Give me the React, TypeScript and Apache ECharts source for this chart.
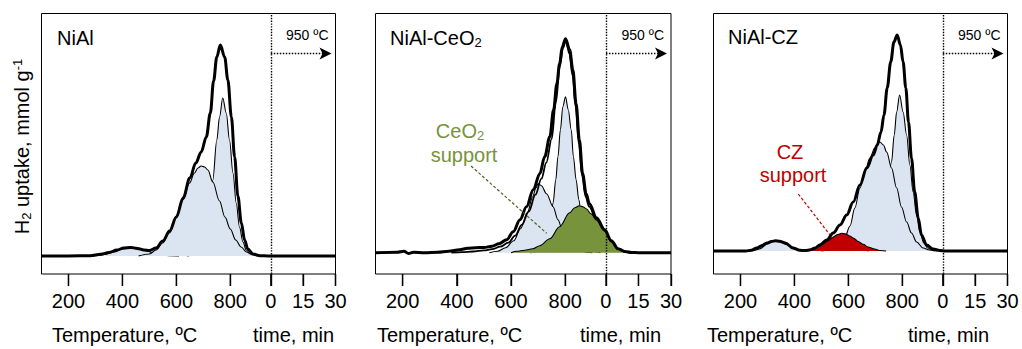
import React, { useEffect, useRef } from "react";
import * as echarts from "echarts";

// x axis: temperature (°C) up to 950, then isothermal time at 950 °C: x = 950 + 8 * minutes
const tickValues = [200, 400, 600, 800, 950, 1070, 1190];
const tickLabels = ["200", "400", "600", "800", "0", "15", "30"];

// ---- NiAl ----
const nialMeasured: [number, number][] = [
  [100, 0], [200, 0], [280, 0.3], [320, 1.8], [350, 3.5], [380, 6], [405, 8], [430, 8.6], [455, 7.6],
  [480, 6], [500, 5.5], [525, 8], [550, 15], [575, 25], [600, 39], [625, 58], [650, 78], [672, 93],
  [692, 104], [711, 119], [726, 143], [738, 175], [750, 199], [763, 211], [779, 199], [791, 176],
  [804, 139], [816, 99], [828, 60], [841, 33], [853, 16], [865, 7], [884, 2], [910, 0.3], [940, 0], [1190, 0],
];
const nialPeakLow: [number, number][] = [
  [280, 0], [310, 0.6], [340, 1.8], [370, 4], [400, 7], [430, 9], [460, 7.8], [490, 5], [520, 2.3],
  [550, 0.8], [580, 0.2], [610, 0],
];
const nialPeakMid: [number, number][] = [
  [460, 0], [500, 2], [525, 6], [549, 13], [574, 23], [599, 38], [624, 56], [649, 73], [667, 83],
  [680, 88], [692, 90], [705, 89], [717, 86], [735, 74], [760, 55], [780, 39], [800, 27], [820, 16],
  [840, 9], [860, 4], [880, 1.5], [900, 0.5], [930, 0],
];
const nialPeakHigh: [number, number][] = [
  [640, 0], [666, 1], [685, 6], [697, 14], [710, 29], [722, 48], [735, 76], [750, 116], [760, 139],
  [772, 158], [785, 143], [797, 116], [810, 83], [822, 53], [834, 29], [847, 14], [859, 6], [878, 1], [900, 0],
];

// ---- NiAl-CeO2 ----
const ceMeasured: [number, number][] = [
  [100, 0], [180, 0.5], [205, 1.5], [222, -0.8], [240, 0.5], [280, 0], [330, 0.5], [370, 1.5], [410, 3],
  [440, 4.5], [470, 5], [500, 5.2], [530, 6.5], [555, 9], [584, 13], [608, 21], [633, 33], [657, 46],
  [682, 63], [706, 79], [724, 96], [743, 116], [757, 143], [769, 169], [779, 189], [789, 206], [801, 214],
  [816, 203], [828, 183], [840, 149], [852, 113], [864, 79], [877, 59], [889, 49], [915, 35], [945, 23],
  [970, 12], [995, 4], [1020, 1.2], [1045, 0.2], [1070, 0], [1190, 0],
];
const ceFitSum: [number, number][] = [
  [380, 0], [420, 0.5], [460, 1.2], [500, 2.3], [530, 3.5], [560, 6], [590, 10], [615, 17], [640, 28],
  [665, 41], [690, 58], [712, 74], [730, 90], [750, 114], [765, 150], [780, 186], [792, 205], [802, 212],
  [815, 199], [827, 177], [838, 146], [850, 109], [862, 77], [875, 56], [888, 46], [915, 33], [945, 22],
  [970, 11], [995, 3.5], [1020, 0.8], [1040, 0],
];
const ceSupport: [number, number][] = [
  [600, 0], [621, 1.4], [650, 2.5], [680, 4], [706, 7], [743, 14], [779, 26], [816, 40], [835, 45],
  [852, 47], [865, 46], [877, 44], [895, 39], [915, 33], [945, 22], [970, 11.5], [995, 3.8], [1020, 1.1],
  [1045, 0.3], [1070, 0],
];
const cePeakMid: [number, number][] = [
  [520, 0], [550, 1.5], [580, 5], [610, 12], [635, 24], [660, 40], [680, 56], [692, 65], [700, 69],
  [712, 67], [731, 59], [755, 46], [773, 33], [790, 22], [810, 12], [830, 6], [850, 2.5], [880, 0.5], [900, 0],
];
const cePeakHigh: [number, number][] = [
  [670, 0], [690, 0.5], [705, 2], [720, 6], [735, 16], [745, 30], [755, 50], [765, 73], [773, 96],
  [782, 123], [791, 146], [801, 156], [811, 143], [822, 123], [830, 96], [840, 73], [850, 53], [860, 35],
  [870, 20], [880, 10], [895, 3], [910, 1], [930, 0],
];

// ---- NiAl-CZ ----
const czMeasured: [number, number][] = [
  [100, 0], [220, 0], [240, 0.8], [261, 3], [280, 5.5], [298, 8], [315, 9.5], [330, 10.2], [345, 9.8],
  [366, 8], [395, 3], [420, 0.8], [440, 0.4], [460, 1.2], [477, 3], [494, 6], [520, 11], [544, 18],
  [569, 26], [594, 36], [618, 49], [643, 66], [668, 83], [692, 96], [707, 106], [721, 119], [732, 136],
  [744, 163], [757, 189], [769, 209], [781, 216], [793, 206], [803, 189], [813, 163], [823, 129],
  [834, 93], [846, 59], [859, 33], [871, 16], [890, 6], [914, 2], [939, 0.5], [960, 0], [1190, 0],
];
const czPeakLow: [number, number][] = [
  [230, 0], [250, 0.5], [270, 2], [300, 7], [320, 9.5], [335, 10], [350, 9.3], [370, 6.5], [400, 2],
  [420, 0.7], [445, 0],
];
const czSupport: [number, number][] = [
  [430, 0], [450, 0.7], [470, 2], [490, 4.5], [507, 7], [525, 10.5], [544, 14], [560, 16.5], [575, 17.7],
  [590, 17], [605, 15], [618, 13], [637, 9.5], [655, 6.7], [673, 4], [692, 2.3], [717, 0.5], [740, 0],
];
const czPeakMid: [number, number][] = [
  [500, 0], [530, 1], [550, 3], [570, 7], [585, 12], [606, 25], [624, 43], [643, 63], [661, 79],
  [680, 93], [698, 103], [717, 109], [730, 106], [742, 99], [760, 83], [779, 63], [797, 44], [816, 29],
  [834, 18], [853, 9], [877, 3], [900, 1], [920, 0],
];
const czPeakHigh: [number, number][] = [
  [670, 0], [685, 1], [700, 4], [715, 12], [730, 30], [745, 55], [760, 89], [770, 116], [779, 139],
  [790, 156], [803, 139], [816, 116], [828, 86], [840, 59], [853, 36], [865, 19], [880, 8], [894, 3],
  [914, 0.5], [930, 0],
];

const BLUE = "#dbe5f1";
const GREEN = "#77933c";
const RED = "#c00000";
const FONT = "'Liberation Sans', Arial, Helvetica, sans-serif";

const FRAME_TOP = 13.5;
const FRAME_H = 260.5;
const TICK_LEN = 12;
const X_MIN = 100;
const X_MAX = 1190;

type Comp = { data: [number, number][]; fill: string };
type Panel = {
  left: number;
  width: number;
  base: number;
  measured: [number, number][];
  fitSum: [number, number][] | null;
  comps: Comp[];
};

const panels: Panel[] = [
  {
    left: 41.5, width: 294, base: 256, measured: nialMeasured, fitSum: null,
    comps: [
      { data: nialPeakLow, fill: BLUE },
      { data: nialPeakHigh, fill: BLUE },
      { data: nialPeakMid, fill: BLUE },
    ],
  },
  {
    left: 375.5, width: 295.5, base: 252.7, measured: ceMeasured, fitSum: ceFitSum,
    comps: [
      { data: cePeakHigh, fill: BLUE },
      { data: cePeakMid, fill: BLUE },
      { data: ceSupport, fill: GREEN },
    ],
  },
  {
    left: 713.5, width: 294, base: 251, measured: czMeasured, fitSum: null,
    comps: [
      { data: czPeakLow, fill: BLUE },
      { data: czPeakHigh, fill: BLUE },
      { data: czPeakMid, fill: BLUE },
      { data: czSupport, fill: RED },
    ],
  },
];

function buildOption() {
  const grid: any[] = [];
  const xAxis: any[] = [];
  const yAxis: any[] = [];
  const series: any[] = [];
  const graphic: any[] = [];
  const frameBottom = FRAME_TOP + FRAME_H;
  const gridBottom = frameBottom + TICK_LEN;

  panels.forEach((p, i) => {
    // the grid reaches down to the tick ends; the visible frame is drawn separately
    grid.push({
      left: p.left, top: FRAME_TOP, width: p.width, height: FRAME_H + TICK_LEN, show: false,
    });
    xAxis.push({
      gridIndex: i, type: "value", min: X_MIN, max: X_MAX, position: "bottom",
      axisLine: { show: false, onZero: false },
      splitLine: { show: false },
      axisTick: {
        show: true, inside: true, customValues: tickValues, length: TICK_LEN,
        lineStyle: { color: "#000", width: 1.2 },
      },
      axisLabel: {
        show: true,
        customValues: tickValues,
        formatter: (v: number) => {
          const k = tickValues.indexOf(Math.round(v));
          return k >= 0 ? tickLabels[k] : "";
        },
        fontSize: 20, color: "#000", fontFamily: FONT, margin: 5, backgroundColor: "transparent",
      },
    });
    const yTop = p.base - FRAME_TOP;
    const yFrame = -(frameBottom - p.base);
    const yBottom = -(gridBottom - p.base);
    yAxis.push({
      gridIndex: i, type: "value", min: yBottom, max: yTop,
      show: false, splitLine: { show: false },
    });

    let z = 2;
    p.comps.forEach((c, ci) => {
      const s: any = {
        type: "line", xAxisIndex: i, yAxisIndex: i, data: c.data, z: z++,
        smooth: 0.35, smoothMonotone: "x", showSymbol: false, symbol: "none", silent: true,
        lineStyle: { color: "#000", width: 1.1 },
        areaStyle: { color: c.fill, opacity: 1 },
      };
      if (ci === 0) {
        // tick marks hanging below the frame, placed on the axis scale
        s.markLine = {
          silent: true, symbol: ["none", "none"], label: { show: false },
          lineStyle: { type: "solid", color: "#000", width: 1.2 },
          data: tickValues.map((v) => [{ coord: [v, yFrame] }, { coord: [v, yBottom] }]),
        };
      }
      series.push(s);
    });
    if (p.fitSum) {
      series.push({
        type: "line", xAxisIndex: i, yAxisIndex: i, data: p.fitSum, z: z++,
        smooth: 0.35, smoothMonotone: "x", showSymbol: false, symbol: "none", silent: true,
        lineStyle: { color: "#000", width: 1.8 },
      });
    }
    series.push({
      type: "line", xAxisIndex: i, yAxisIndex: i, data: p.measured, z: z++,
      smooth: 0.35, smoothMonotone: "x", showSymbol: false, symbol: "none", silent: true,
      lineStyle: { color: "#000", width: 3 },
      markLine: {
        silent: true, symbol: ["none", "none"], label: { show: false },
        lineStyle: { type: "dotted", color: "#000", width: 1.4 },
        data: [[{ coord: [950, yFrame] }, { coord: [950, yTop] }]],
      },
    });

    // frame
    graphic.push({
      type: "rect", silent: true, z: 40,
      shape: { x: p.left, y: FRAME_TOP, width: p.width, height: FRAME_H },
      style: { fill: "none", stroke: "#000", lineWidth: 1 },
    });
    const toPx = (v: number) => p.left + ((v - X_MIN) / (X_MAX - X_MIN)) * p.width;
    tickValues.forEach((v) => {
      graphic.push({
        type: "rect", silent: true, z: 100,
        shape: { x: toPx(v) - 0.6, y: frameBottom, width: 1.2, height: TICK_LEN },
        style: { fill: "#000" },
      });
    });

    // arrow "950 ºC"
    const right = p.left + p.width;
    const xs = toPx(950);
    const tip = right - 4;
    const ay = 53.5;
    graphic.push({
      type: "line", silent: true, z: 50,
      shape: { x1: xs, y1: ay, x2: tip - 8, y2: ay },
      style: { stroke: "#000", lineWidth: 1.5, lineDash: [1.5, 1.5] },
    });
    graphic.push({
      type: "polygon", silent: true, z: 50,
      shape: { points: [[tip, ay], [tip - 12, ay - 6], [tip - 9, ay], [tip - 12, ay + 6]] },
      style: { fill: "#000" },
    });
    graphic.push({
      type: "text", silent: true, x: right - 7, y: 35, z: 50,
      style: { text: "950 ºC", fill: "#000", fontSize: 14, fontFamily: FONT, align: "right", verticalAlign: "middle" },
    });
  });

  const txt = (x: number, y: number, text: string, extra: any = {}) => ({
    type: "text", silent: true, x, y, z: 50,
    style: { text, fill: "#000", fontSize: 20, fontFamily: FONT, align: "left", verticalAlign: "middle", ...extra },
  });
  const richBase = (color: string) => ({
    a: { fontSize: 20, fontFamily: FONT, fill: color, lineHeight: 22, verticalAlign: "middle" },
    s: { fontSize: 13, fontFamily: FONT, fill: color, lineHeight: 6, verticalAlign: "bottom" },
    p: { fontSize: 13, fontFamily: FONT, fill: color, lineHeight: 6, verticalAlign: "top" },
  });

  // panel titles
  graphic.push(txt(57, 38, "NiAl"));
  graphic.push(txt(390, 38, "{a|NiAl-CeO}{s|2}", { rich: richBase("#000") }));
  graphic.push(txt(728, 37, "NiAl-CZ"));

  // axis titles
  graphic.push(txt(52, 335, "Temperature, ºC"));
  graphic.push(txt(253, 335, "time, min"));
  graphic.push(txt(377, 335, "Temperature, ºC"));
  graphic.push(txt(580, 335, "time, min"));
  graphic.push(txt(707, 335, "Temperature, ºC"));
  graphic.push(txt(908, 335, "time, min"));

  // y axis title
  graphic.push({
    type: "text", silent: true, x: 21.5, y: 146.5, rotation: Math.PI / 2, z: 50,
    style: {
      text: "{a|H}{s|2}{a| uptake, mmol g}{p|-1}",
      rich: richBase("#000"), align: "center", verticalAlign: "middle", fontSize: 20, fontFamily: FONT,
    },
  });

  // annotations
  graphic.push(txt(460, 131, "{a|CeO}{s|2}", { rich: richBase(GREEN), align: "center" }));
  graphic.push(txt(464, 155, "support", { fill: GREEN, align: "center" }));
  graphic.push({
    type: "line", silent: true, z: 50,
    shape: { x1: 471, y1: 166, x2: 546.7, y2: 233.3 },
    style: { stroke: "#4f6228", lineWidth: 1.2, lineDash: [3, 2] },
  });
  graphic.push(txt(790, 152, "CZ", { fill: RED, align: "center" }));
  graphic.push(txt(793, 175, "support", { fill: RED, align: "center" }));
  graphic.push({
    type: "line", silent: true, z: 50,
    shape: { x1: 798.3, y1: 194, x2: 830, y2: 235 },
    style: { stroke: RED, lineWidth: 1.2, lineDash: [3, 2] },
  });

  return { animation: false, backgroundColor: "#fff", grid, xAxis, yAxis, series, graphic };
}

export default function App() {
  const ref = useRef<HTMLDivElement>(null);
  useEffect(() => {
    if (!ref.current) return;
    const chart = echarts.init(ref.current, undefined, { renderer: "svg" });
    chart.setOption(buildOption() as any);
    return () => chart.dispose();
  }, []);
  return (
    <div
      ref={ref}
      style={{ position: "fixed", left: 0, top: 0, width: 1022, height: 349, background: "#fff" }}
    />
  );
}
